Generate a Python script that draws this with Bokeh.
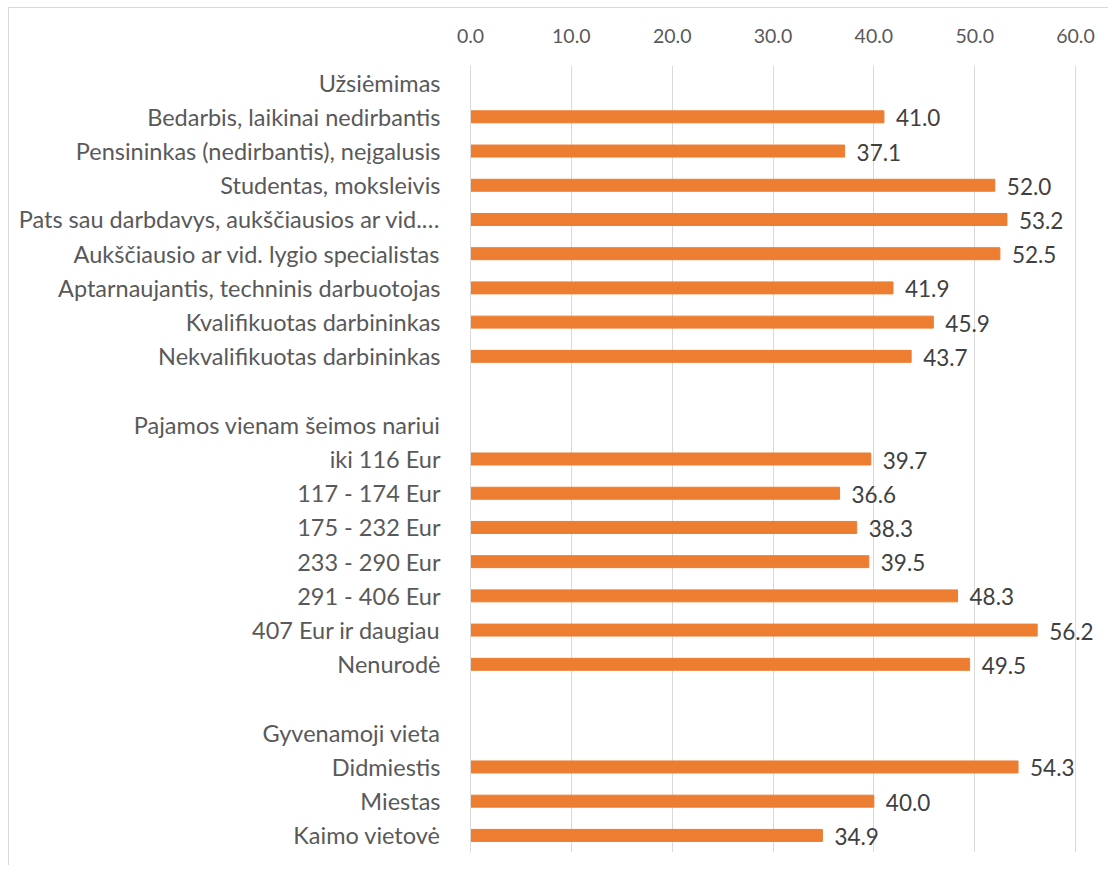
from bokeh.plotting import figure
from bokeh.models import FixedTicker, ColumnDataSource, Range1d, NumeralTickFormatter
from bokeh.core.properties import value
from bokeh.embed import file_html
from bokeh.resources import INLINE

# Rows (top to bottom); None = header/blank rows without bars
labels = [
    "Užsiėmimas",
    "Bedarbis, laikinai nedirbantis",
    "Pensininkas (nedirbantis), neįgalusis",
    "Studentas, moksleivis",
    "Pats sau darbdavys, aukščiausios ar vid.…",
    "Aukščiausio ar vid. lygio specialistas",
    "Aptarnaujantis, techninis darbuotojas",
    "Kvalifikuotas darbininkas",
    "Nekvalifikuotas darbininkas",
    "",
    "Pajamos vienam šeimos nariui",
    "iki 116 Eur",
    "117 - 174 Eur",
    "175 - 232 Eur",
    "233 - 290 Eur",
    "291 - 406 Eur",
    "407 Eur ir daugiau",
    "Nenurodė",
    "",
    "Gyvenamoji vieta",
    "Didmiestis",
    "Miestas",
    "Kaimo vietovė",
]
values = [None, 41.0, 37.1, 52.0, 53.2, 52.5, 41.9, 45.9, 43.7,
          None, None, 39.7, 36.6, 38.3, 39.5, 48.3, 56.2, 49.5,
          None, None, 54.3, 40.0, 34.9]
x_ticks = [0, 10, 20, 30, 40, 50, 60]

FONT = "Lato"
bar_y = [i for i, v in enumerate(values) if v is not None]
bar_v = [v for v in values if v is not None]
src = ColumnDataSource(dict(y=bar_y, v=bar_v, lbl=[f"{v:.1f}" for v in bar_v]))

# axis runs 0..60; extra room on the right only so value labels are not clipped
p = figure(width=1100, height=858, output_backend="svg", toolbar_location=None,
           x_range=Range1d(0, 63.37), y_range=Range1d(len(labels) - 0.5, -0.5),
           x_axis_location="above",
           min_border_left=461, min_border_right=0, min_border_top=57, min_border_bottom=14)
p.styles = {"margin-left": "8px", "margin-top": "7px",
            "border-top": "1px solid #d9d9d9", "border-left": "1px solid #d9d9d9"}
p.outline_line_color = None

p.hbar(y="y", right="v", left=0, height=0.35, source=src, color="#ED7D31")
p.text(x="v", y="y", text="lbl", source=src, x_offset=12, y_offset=1, text_baseline="middle",
       text_align="left", text_font=value(FONT), text_font_size="22.5px", text_color="#404040")

xa = p.xaxis[0]
xa.ticker = FixedTicker(ticks=x_ticks)
xa.formatter = NumeralTickFormatter(format="0.0")
xa.axis_line_color = None
xa.major_tick_line_color = None
xa.minor_tick_line_color = None
xa.major_label_text_font = FONT
xa.major_label_text_font_size = "19.5px"
xa.major_label_text_color = "#595959"
xa.major_label_standoff = 17

ya = p.yaxis[0]
ya.ticker = FixedTicker(ticks=list(range(len(labels))))
ya.major_label_overrides = {i: l for i, l in enumerate(labels)}
ya.axis_line_color = "#d9d9d9"
ya.major_tick_line_color = None
ya.minor_tick_line_color = None
ya.major_label_text_font = FONT
ya.major_label_text_font_size = "23.5px"
ya.major_label_text_color = "#595959"
ya.major_label_standoff = 24

p.xgrid.grid_line_color = "#d9d9d9"
p.xgrid.ticker = FixedTicker(ticks=x_ticks)
p.ygrid.grid_line_color = None

open("out.html", "w").write(file_html(p, INLINE))
